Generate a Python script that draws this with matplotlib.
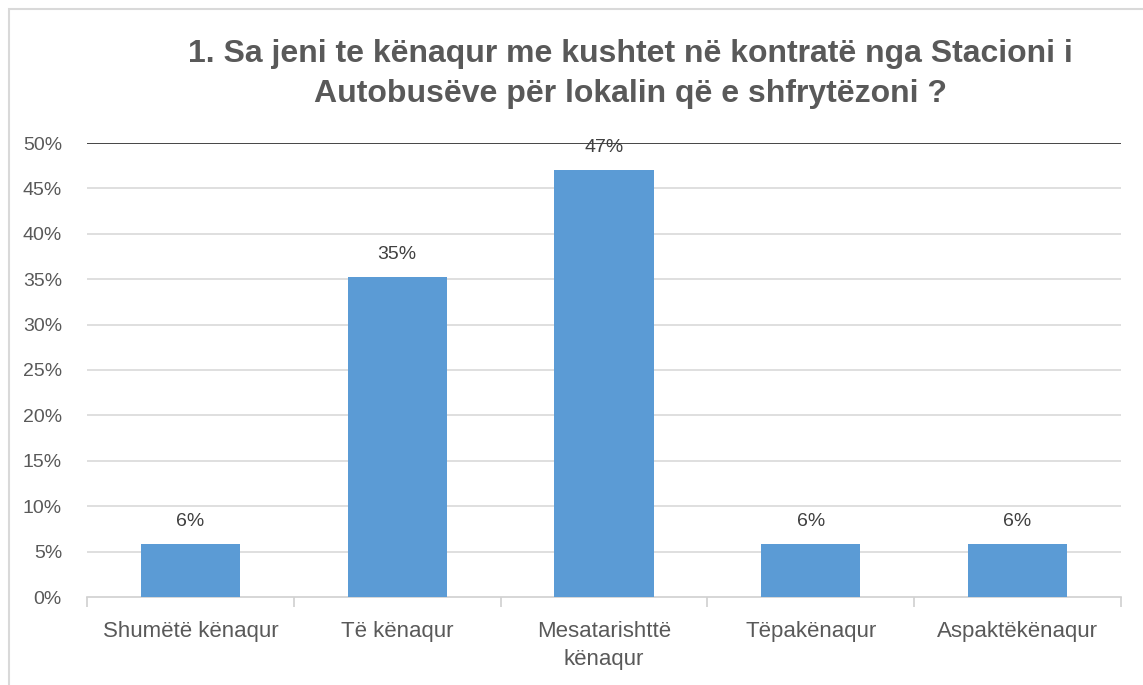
import matplotlib
matplotlib.use("Agg")
import matplotlib.pyplot as plt
from matplotlib.patches import Rectangle
from matplotlib.ticker import FuncFormatter

# Survey answers (share of respondents)
categories = ["Shumëtë kënaqur", "Të kënaqur", "Mesatarishttë\nkënaqur",
              "Tëpakënaqur", "Aspaktëkënaqur"]
values = [0.0588, 0.3529, 0.4706, 0.0588, 0.0588]
value_labels = ["6%", "35%", "47%", "6%", "6%"]
y_ticks = [0, 0.05, 0.10, 0.15, 0.20, 0.25, 0.30, 0.35, 0.40, 0.45, 0.50]

title = ("1. Sa jeni te kënaqur me kushtet në kontratë nga Stacioni i\n"
         "Autobusëve për lokalin që e shfrytëzoni ?")

plt.rcParams['font.family'] = ['Liberation Sans', 'DejaVu Sans']

W, H = 1143, 685
fig = plt.figure(figsize=(W / 100, H / 100), dpi=100)

# thin light frame around the chart (only left/top visible in the original)
fig.patches.append(Rectangle((9 / W, -0.1), 1.2, 1 - 9 / H + 0.1,
                             transform=fig.transFigure, fill=False,
                             edgecolor='#D9D9D9', linewidth=1.5))

ax = fig.add_axes([87 / W, 1 - 597 / H, (1121 - 87) / W, (597 - 143) / H])

x = list(range(len(categories)))
ax.bar(x, values, width=0.48, color='#5B9BD5', zorder=3)

ax.set_xlim(-0.5, len(categories) - 0.5)
ax.set_ylim(0, 0.5)
ax.set_yticks(y_ticks)
ax.yaxis.set_major_formatter(FuncFormatter(lambda v, p: f"{round(v * 100)}%"))

# gridlines; the top one is dark
for t in y_ticks[1:]:
    ax.axhline(t, color='#D9D9D9' if t < 0.5 else '#262626',
               linewidth=1.2, zorder=1)

for s in ['left', 'right', 'top']:
    ax.spines[s].set_visible(False)
ax.spines['bottom'].set_color('#D0D0D0')
ax.spines['bottom'].set_linewidth(1.2)

ax.tick_params(axis='y', length=0, labelsize=14, labelcolor='#595959', pad=18)
ax.set_xticks(x)
ax.set_xticklabels(categories)
ax.tick_params(axis='x', length=0, labelsize=16, labelcolor='#595959', pad=17)
for lbl in ax.get_xticklabels():
    lbl.set_linespacing(1.45)

# category boundary ticks
ax.set_xticks([i - 0.5 for i in range(len(categories) + 1)], minor=True)
ax.tick_params(axis='x', which='minor', length=7, color='#D0D0D0', width=1.2)

for xi, v, lab in zip(x, values, value_labels):
    ax.annotate(lab, (xi, v), xytext=(0, 10), textcoords='offset points',
                ha='center', va='bottom', fontsize=14, color='#404040')

fig.text(630 / W, 1 - 74 / H, title, ha='center', va='center',
         fontsize=23, fontweight='bold', color='#595959', linespacing=1.45)

fig.savefig("out.png", dpi=100, facecolor='white')
